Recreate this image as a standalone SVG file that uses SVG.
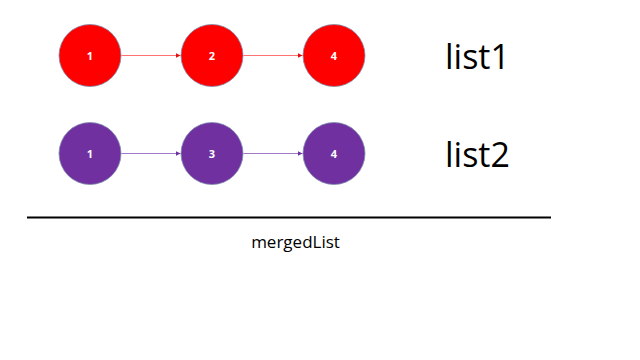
<svg xmlns="http://www.w3.org/2000/svg" width="640" height="360" viewBox="0 0 640 360">
<style>
.red{fill:#FF0000;stroke:#7F8FAF;stroke-width:0.8}
.pur{fill:#7030A0;stroke:#7F8FAF;stroke-width:0.8}
.num{font-family:"Open Sans","Noto Sans",sans-serif;font-size:11px;font-weight:bold;fill:#FFFFFF;text-anchor:middle}
.big{font-family:"Open Sans","Noto Sans",sans-serif;font-size:34px;fill:#000000}
.lbl{font-family:"Open Sans","Noto Sans",sans-serif;font-size:17px;fill:#000000;text-anchor:middle}
.lr{stroke:#FF7070;stroke-width:1;fill:none;marker-end:url(#ar)}
.lp{stroke:#A078C8;stroke-width:1;fill:none;marker-end:url(#ap)}
</style>
<defs>
<marker id="ar" markerWidth="6" markerHeight="6" refX="5" refY="3" orient="auto" markerUnits="userSpaceOnUse"><path d="M0,0.5 L5,3 L0,5.5 Z" fill="#E01010"/></marker>
<marker id="ap" markerWidth="6" markerHeight="6" refX="5" refY="3" orient="auto" markerUnits="userSpaceOnUse"><path d="M0,0.5 L5,3 L0,5.5 Z" fill="#7030A0"/></marker>
</defs>
<rect width="640" height="360" fill="#FFFFFF"/>
<g id="connectors">
<line class="lr" x1="121.5" y1="55.5" x2="180.5" y2="55.5"/>
<line class="lr" x1="243.5" y1="55.5" x2="302.5" y2="55.5"/>
<line class="lp" x1="121.5" y1="153.5" x2="180.5" y2="153.5"/>
<line class="lp" x1="243.5" y1="153.5" x2="302.5" y2="153.5"/>
</g>
<g id="r1"><circle class="red" cx="90" cy="55.5" r="31"/><text class="num" x="90" y="59.5">1</text></g>
<g id="r2"><circle class="red" cx="212" cy="55.5" r="31"/><text class="num" x="212" y="59.5">2</text></g>
<g id="r3"><circle class="red" cx="334" cy="55.5" r="31"/><text class="num" x="334" y="59.5">4</text></g>
<g id="p1"><circle class="pur" cx="90" cy="153.5" r="31"/><text class="num" x="90" y="157.5">1</text></g>
<g id="p2"><circle class="pur" cx="212" cy="153.5" r="31"/><text class="num" x="212" y="157.5">3</text></g>
<g id="p3"><circle class="pur" cx="334" cy="153.5" r="31"/><text class="num" x="334" y="157.5">4</text></g>
<g id="list1"><text class="big" x="445" y="69">list1</text></g>
<g id="list2"><text class="big" x="445" y="167">list2</text></g>
<g id="divider"><line x1="27" y1="217.5" x2="551" y2="217.5" stroke="#000000" stroke-width="2"/></g>
<g id="merged"><text class="lbl" x="295.5" y="247.5">mergedList</text></g>
</svg>
